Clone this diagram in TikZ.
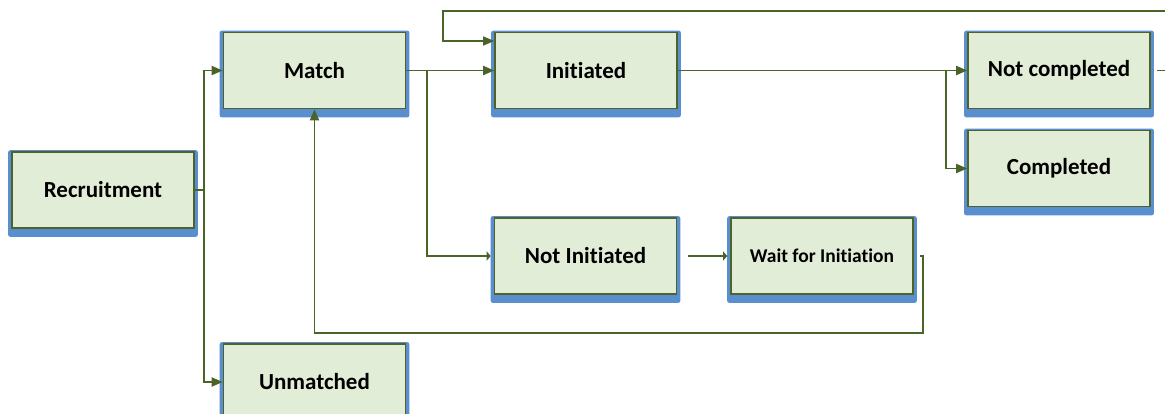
\documentclass[tikz,border=0pt]{standalone}
\usepackage{fontspec}
\setmainfont{Carlito}[Ligatures=NoCommon]
\usepackage{tikz}
\usetikzlibrary{arrows.meta}

\definecolor{boxfill}{HTML}{E2EDD8}
\definecolor{boxline}{HTML}{4F6228}
\definecolor{boxshade}{HTML}{5A8FCF}
\definecolor{flowline}{HTML}{4A6328}

\pgfdeclarelayer{background}
\pgfsetlayers{background,main}

\tikzset{
  stage/.style={draw=boxline, line width=1.6pt, fill=boxfill,
    minimum width=182pt, minimum height=76pt, inner sep=0pt,
    font=\fontsize{23}{26}\selectfont\bfseries},
  flow/.style={draw=flowline, line width=1.8pt},
  flowarr/.style={flow, -{Triangle[length=11pt,width=9pt]}},
  flowtick/.style={flow, -{Triangle[length=4pt,width=9pt]}},
}

\begin{document}
\begin{tikzpicture}[x=1pt, y=-1pt]
    \useasboundingbox (0,0) rectangle (1165,413);
    \clip (0,0) rectangle (1165,413);

    % stages
    \node[stage] (recruit)  at (103,190)   {Recruitment};
    \node[stage] (match)    at (314.5,70.5) {Match};
    \node[stage] (unmatch)  at (314.5,382) {Unmatched};
    \node[stage] (init)     at (586,70.5)  {Initiated};
    \node[stage] (notinit)  at (585.5,256) {Not Initiated};
    \node[stage, font=\fontsize{19.5}{22}\selectfont\bfseries]
                 (wait)     at (822,256)   {Wait for Initiation};
    \node[stage] (notcomp)  at (1059,70.5) {Not completed};
    \node[stage] (comp)     at (1059,168.5) {Completed};

    % blue bevel behind each box
    \begin{pgfonlayer}{background}
    \foreach \n in {recruit,match,unmatch,init,notinit,wait,notcomp,comp} {
      \fill[boxshade, rounded corners=2pt]
        ([shift={(-3,-1)}]\n.north west) rectangle ([shift={(3,8)}]\n.south east);
    }
    \end{pgfonlayer}

    % split points
    \coordinate (rsplit) at (204,190);
    \coordinate (msplit) at (427,70.5);
    \coordinate (isplit) at (946,70.5);
    \coordinate (ntop)   at (1180,11);
    \coordinate (itop)   at (443,11);

    \draw[flow] (recruit.east) -- (rsplit);
    \draw[flowarr] (rsplit) |- (match.west);
    \draw[flowarr] (rsplit) |- (unmatch.west);

    \draw[flowarr] (match.east) -- (init.west);
    \draw[flowtick] (msplit) |- ([xshift=-3]notinit.west);
    \draw[flowtick] ([xshift=11]notinit.east) -- ([xshift=-3]wait.west);

    %Back to match
    \draw[flowarr] ([xshift=6]wait.east) -- ++(3,0) -- ++(0,77) -| (match.south);

    \draw[flowarr] (init.east) -- (notcomp.west);
    \draw[flowarr] (isplit) |- (comp.west);

    %Loop over the top
    \draw[flowarr, line width=1.2pt] ([xshift=6]notcomp.east) -| (ntop) -- (itop)
      |- ([yshift=29.5]init.west);

\end{tikzpicture}
\end{document}
